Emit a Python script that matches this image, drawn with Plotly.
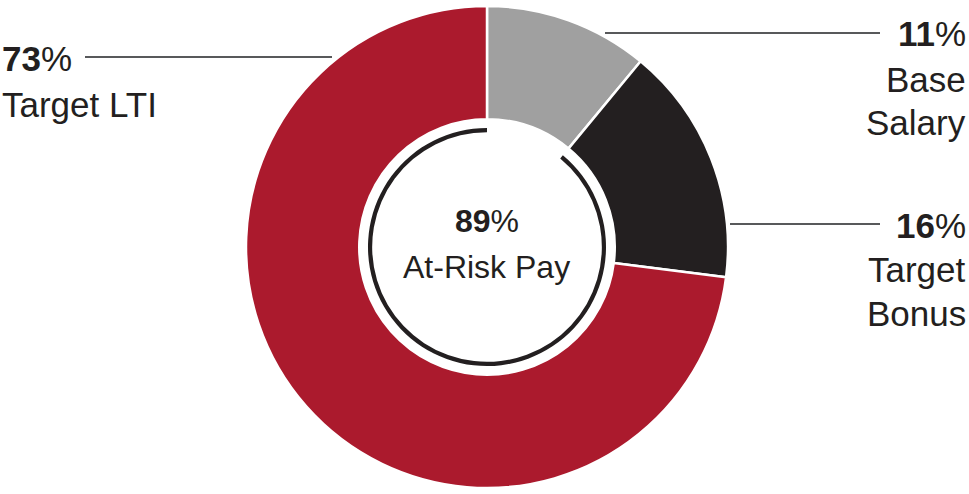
import plotly.graph_objects as go

# Pay mix data
labels = ["Base Salary", "Target Bonus", "Target LTI"]
shares = [11, 16, 73]
colors = ["#A0A0A0", "#231F20", "#AB1A2D"]
at_risk = 89  # bonus + LTI

W, H = 969, 494
FONT = "Liberation Sans"
TXT = "#231F20"


def px_x(x):
    return x / W


def px_y(y):
    return 1 - y / H


fig = go.Figure()

# Main donut
cx, cy, r = 487, 247, 241
fig.add_trace(go.Pie(
    labels=labels, values=shares, sort=False, direction="clockwise", rotation=0,
    hole=0.53, marker=dict(colors=colors, line=dict(color="white", width=2.5)),
    textinfo="none", hoverinfo="label+percent", showlegend=False,
    domain=dict(x=[px_x(cx - r), px_x(cx + r)], y=[px_y(cy + r), px_y(cy - r)]),
))

# Thin inner arc showing the at-risk share
ri = 119
fig.add_trace(go.Pie(
    labels=["Fixed", "At-Risk Pay"], values=[100 - at_risk, at_risk], sort=False,
    direction="clockwise", rotation=0, hole=0.965,
    marker=dict(colors=["rgba(0,0,0,0)", "#231F20"], line=dict(width=0)),
    textinfo="none", hoverinfo="skip", showlegend=False,
    domain=dict(x=[px_x(cx - ri), px_x(cx + ri)], y=[px_y(cy + ri), px_y(cy - ri)]),
))

annotations = []


def add_text(text, x, y, anchor, size=35):
    annotations.append(dict(
        text=text, x=px_x(x), y=px_y(y), xref="paper", yref="paper",
        xanchor=anchor, yanchor="middle", showarrow=False,
        font=dict(family=FONT, size=size, color=TXT),
    ))


# Left label
add_text(f"<b>{shares[2]}</b>%", 0, 58, "left")
add_text("Target LTI", 0, 104, "left")
# Right labels
add_text(f"<b>{shares[0]}</b>%", 968, 34, "right")
add_text("Base", 968, 79, "right")
add_text("Salary", 968, 123, "right")
add_text(f"<b>{shares[1]}</b>%", 968, 225, "right")
add_text("Target", 968, 269, "right")
add_text("Bonus", 968, 313, "right")
# Centre
add_text(f"<b>{at_risk}</b>%", cx, 221, "center", size=32)
add_text("At-Risk Pay", cx, 267, "center", size=32)

# Leader lines
leaders = [(85, 332, 57), (605, 880, 33), (730, 880, 224)]
shapes = [
    dict(type="line", xref="paper", yref="paper",
         x0=px_x(a), x1=px_x(b), y0=px_y(y), y1=px_y(y),
         line=dict(color="#58595B", width=1.8))
    for a, b, y in leaders
]

fig.update_layout(
    width=W, height=H, margin=dict(l=0, r=0, t=0, b=0),
    paper_bgcolor="white", plot_bgcolor="white",
    annotations=annotations, shapes=shapes,
)

fig.write_html("out.html", config={"displayModeBar": False},
               post_script="document.body.style.margin='0';")
